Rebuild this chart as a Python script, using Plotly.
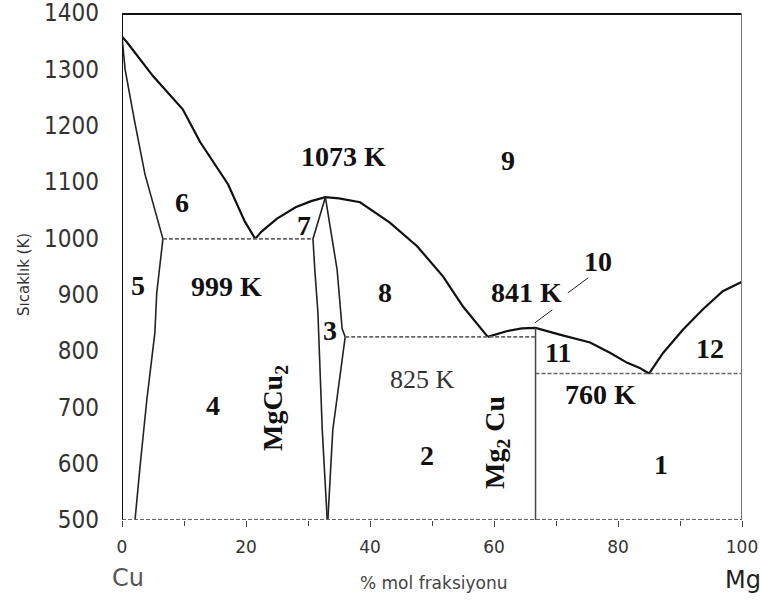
import plotly.graph_objects as go

# ---- Cu–Mg phase diagram data (composition in % mol Mg, temperature in K) ----
T_CU_MELT = 1358
T_MG_MELT = 923
T_EUT_1 = 999      # Cu(ss) + MgCu2 eutectic
T_MGCU2_MAX = 1073  # congruent melting of MgCu2
T_EUT_2 = 825      # MgCu2 + Mg2Cu eutectic
T_MG2CU_MAX = 841   # congruent melting of Mg2Cu
T_EUT_3 = 760      # Mg2Cu + Mg eutectic

X_MG2CU = 66.7

cu_liq_x = [0, 0.8, 5.0, 9.8, 12.6, 17.1, 19.8, 21.5]
cu_liq_y = [T_CU_MELT, 1348, 1288, 1229, 1171, 1096, 1030, T_EUT_1]

mgcu2_liq_x = [21.5, 22.5, 25, 28, 30.5, 32.8, 35, 38.4, 43.2, 47.6, 51.8, 55, 59]
mgcu2_liq_y = [T_EUT_1, 1012, 1035, 1055, 1066, T_MGCU2_MAX, 1071, 1064, 1028, 986, 932, 879, T_EUT_2]

mg2cu_liq_x = [59, 62, 64.5, X_MG2CU, 70.6, 75.5, 78.7, 81.5, 83.5, 85]
mg2cu_liq_y = [T_EUT_2, 835, 840, T_MG2CU_MAX, 829, 815, 797, 779, 770, T_EUT_3]

mg_liq_x = [85, 87.3, 90.5, 93.7, 96.9, 100]
mg_liq_y = [T_EUT_3, 797, 838, 874, 906, T_MG_MELT]

cu_sol_x = [0, 0.5, 2.0, 3.7, 6.6]
cu_sol_y = [T_CU_MELT, 1300, 1210, 1114, T_EUT_1]

cu_solvus_x = [6.6, 5.6, 5.3, 4.0, 2.9, 2.1]
cu_solvus_y = [T_EUT_1, 903, 832, 713, 594, 500]

mgcu2_left_x = [32.8, 30.8, 31.1, 31.6, 32.3, 33.1]
mgcu2_left_y = [T_MGCU2_MAX, T_EUT_1, 944, 868, 660, 500]

mgcu2_right_x = [32.8, 34.7, 35.5, 36.0, 34.0, 33.2]
mgcu2_right_y = [T_MGCU2_MAX, 944, 840, T_EUT_2, 660, 500]

iso1_x = [6.6, 30.8]
iso2_x = [36.0, X_MG2CU]
iso3_x = [X_MG2CU, 100]

x_ticks = [0, 20, 40, 60, 80, 100]
y_ticks = [500, 600, 700, 800, 900, 1000, 1100, 1200, 1300, 1400]

fig = go.Figure()

CURVE = dict(color="#111", width=2.2)
THIN = dict(color="#222", width=1.6)
ISO = dict(color="#666", width=1.6, dash="4px,2px")


def line(xs, ys, style):
    fig.add_trace(go.Scatter(x=xs, y=ys, mode="lines", line=style,
                             hoverinfo="skip", showlegend=False))


# liquidus
line(cu_liq_x, cu_liq_y, CURVE)
line(mgcu2_liq_x, mgcu2_liq_y, CURVE)
line(mg2cu_liq_x, mg2cu_liq_y, CURVE)
line(mg_liq_x, mg_liq_y, CURVE)
# solidus / solvus of Cu solid solution
line(cu_sol_x, cu_sol_y, THIN)
line(cu_solvus_x, cu_solvus_y, THIN)
# MgCu2 homogeneity range
line(mgcu2_left_x, mgcu2_left_y, THIN)
line(mgcu2_right_x, mgcu2_right_y, THIN)
# Mg2Cu line compound
line([X_MG2CU, X_MG2CU], [T_MG2CU_MAX, 500], dict(color="#444", width=1.5))
# eutectic isotherms
line(iso1_x, [T_EUT_1] * 2, ISO)
line(iso2_x, [T_EUT_2] * 2, ISO)
line(iso3_x, [T_EUT_3] * 2, ISO)

# frame
fig.add_shape(type="line", xref="x", yref="y", x0=-0.5, x1=100.2, y0=1400, y1=1400,
              line=dict(color="#111", width=4))
fig.add_shape(type="line", xref="x", yref="y", x0=0, x1=0, y0=500, y1=1400,
              line=dict(color="#111", width=2))
fig.add_shape(type="line", xref="x", yref="y", x0=100, x1=100, y0=500, y1=1400,
              line=dict(color="#777", width=2))
fig.add_shape(type="line", xref="x", yref="y", x0=0, x1=100, y0=500, y1=500,
              line=dict(color="#666", width=2, dash="4px,2px"))

# leader lines for region 10
fig.add_shape(type="line", xref="x", yref="y", x0=66.6, y0=850, x1=69.4, y1=873,
              line=dict(color="#222", width=1))
fig.add_shape(type="line", xref="x", yref="y", x0=71.9, y0=903, x1=75.2, y1=930,
              line=dict(color="#222", width=1))

SERIF = "Liberation Serif, Times New Roman, serif"


def label(x, y, text, size=28, bold=True, angle=0, color="#111"):
    fig.add_annotation(x=x, y=y, xref="x", yref="y", text=f"<b>{text}</b>" if bold else text,
                       showarrow=False, textangle=angle, xanchor="center", yanchor="middle",
                       font=dict(family=SERIF, size=size, color=color))


label(35.8, 1146, f"{T_MGCU2_MAX} K")
label(62.3, 1139, "9")
label(9.7, 1064, "6")
label(29.4, 1022, "7")
label(2.6, 917, "5")
label(16.8, 914, f"{T_EUT_1} K")
label(42.4, 903, "8")
label(65.3, 903, f"{T_MG2CU_MAX} K")
label(76.8, 958, "10")
label(33.5, 837, "3")
label(70.3, 798, "11")
label(94.8, 805, "12")
label(48.5, 749, f"{T_EUT_2} K", size=26, bold=False, color="#333")
label(24.7, 699, "MgCu<sub>2</sub>", angle=-90)
label(14.7, 704, "4")
label(77.1, 722, f"{T_EUT_3} K")
label(60.5, 637, "Mg<sub>2</sub> Cu", angle=-90)
label(49.2, 615, "2")
label(86.9, 598, "1")

W, H = 761, 605
L, R, T, B = 122, 19, 13, 85
SANS = "DejaVu Sans, Liberation Sans, sans-serif"


def free_text(px, py, text, size, color, angle=0):
    # place a text at a pixel position of the page, via paper fractions
    fig.add_annotation(x=(px - L) / (W - L - R), y=1 - (py - T) / (H - T - B),
                       xref="paper", yref="paper", text=text, showarrow=False,
                       textangle=angle, xanchor="center", yanchor="middle",
                       font=dict(family=SANS, size=size, color=color))


free_text(128, 578, "Cu", 24, "#555")
free_text(743, 580, "Mg", 24, "#222")
free_text(434, 583, "% mol fraksiyonu", 17, "#444")
free_text(24, 275, "Sıcaklık (K)", 15, "#333", angle=-90)

fig.update_layout(
    width=W, height=H,
    margin=dict(l=L, r=R, t=T, b=B, autoexpand=False),
    paper_bgcolor="white", plot_bgcolor="white",
    xaxis=dict(range=[0, 100], tickvals=x_ticks, showgrid=False, zeroline=False,
               showline=False, ticks="outside", ticklen=6, tickcolor="#444",
               minor=dict(dtick=10, ticks="outside", ticklen=5, tickcolor="#444"),
               tickfont=dict(family=SANS, size=17, color="#333"),
               ticklabelstandoff=6, ticklabeloverflow="allow", automargin=False),
    yaxis=dict(range=[500, 1400], tickvals=y_ticks, showgrid=False, zeroline=False,
               showline=False, ticks="",
               tickfont=dict(family="Liberation Sans Narrow, DejaVu Sans Condensed, sans-serif",
                             size=24, color="#333"),
               ticklabelstandoff=22, ticklabeloverflow="allow", automargin=False),
)

fig.write_html("out.html")
